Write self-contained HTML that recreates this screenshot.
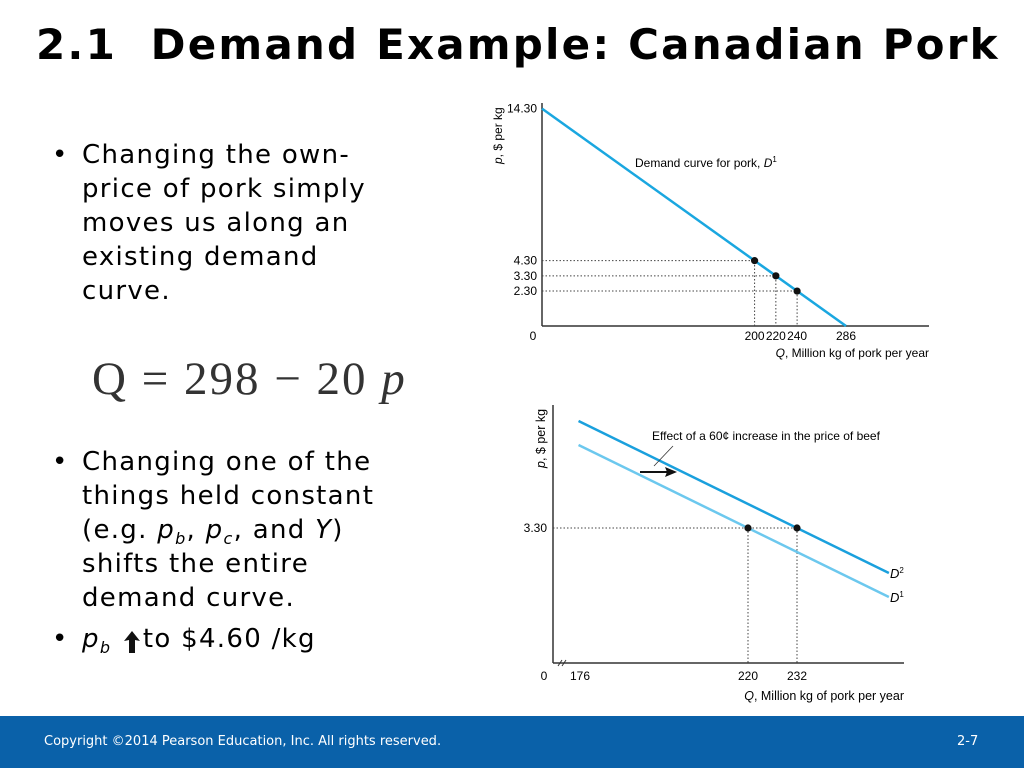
<!DOCTYPE html>
<html><head><meta charset="utf-8">
<style>
body{margin:0;width:1024px;height:768px;background:#fff;position:relative;overflow:hidden;font-family:"DejaVu Sans","Liberation Sans",sans-serif;}
.title{position:absolute;left:36px;top:20px;font-family:"DejaVu Sans","Liberation Sans",sans-serif;font-weight:bold;font-size:42px;color:#000;white-space:nowrap;letter-spacing:2.2px}
.bul{position:absolute;left:52px;font-size:26px;line-height:34px;color:#000;letter-spacing:1.3px;white-space:nowrap}
.bul .dot{position:absolute;left:0;}
.bul .tx{margin-left:30px;display:block}
.bul sub{font-size:16px;line-height:0;position:relative;vertical-align:baseline;top:6px}
.eq{position:absolute;left:92px;top:352px;font-family:"Liberation Serif",serif;font-size:47px;color:#333;white-space:nowrap;letter-spacing:2px}
.footer{position:absolute;left:0;top:716px;width:1024px;height:52px;background:#0a61a9;color:#fff;font-size:13px;}
</style></head><body>
<div class="title">2.1&nbsp; Demand Example: Canadian Pork</div>
<div class="bul" style="top:138px"><span class="dot">•</span><span class="tx">Changing the own-<br>price of pork simply<br>moves us along an<br>existing demand<br>curve.</span></div>
<div class="eq">Q = 298 − 20 <i>p</i></div>
<div class="bul" style="top:445px"><span class="dot">•</span><span class="tx">Changing one of the<br>things held constant<br>(e.g. <i>p<sub>b</sub></i>, <i>p<sub>c</sub></i>, and <i>Y</i>)<br>shifts the entire<br>demand curve.</span></div>
<div class="bul" style="top:622px"><span class="dot">•</span><span class="tx"><i>p<sub>b</sub></i> <svg width="22" height="28" style="vertical-align:-8px"><path d="M11,4 L3,14 L8,13 L8,26 L14,26 L14,13 L19,14 Z" fill="#111"/></svg>to $4.60 /kg</span></div>
<div class="footer">
<span style="position:absolute;left:44px;top:18px">Copyright ©2014 Pearson Education, Inc. All rights reserved.</span>
<span style="position:absolute;left:957px;top:18px">2-7</span>
</div>
<svg id="c1" width="1024" height="768" style="position:absolute;left:0;top:0" font-family="Liberation Sans, sans-serif" font-size="12"></svg>
<script>
const c1CurveQ=[0,286];
const c1CurveP=[14.30,0];
const c1PointQ=[200,220,240];
const c1PointP=[4.30,3.30,2.30];
const c1XTicks=["200","220","240","286"];
const c1YTicks=["14.30","4.30","3.30","2.30"];
const c2D1Q=[178.5,254.5];
const c2D1P=[5.375,1.575];
const c2D2Q=[178.5,254.5];
const c2D2P=[5.975,2.175];
const c2PointQ=[220,232];
const c2PointP=[3.30,3.30];
const c2XTicks=["176","220","232"];
const c2YTicks=["3.30"];
const NS="http://www.w3.org/2000/svg";
const svg=document.getElementById('c1');
function mk(t,a,txt){const e=document.createElementNS(NS,t);for(const k in a)e.setAttribute(k,a[k]);if(txt!==undefined)e.textContent=txt;svg.appendChild(e);return e;}
const x1=q=>542+q*(846-542)/286, y1=p=>326-p*15.2;
let e;
e=mk('line',{x1:542,y1:103,x2:542,y2:326,stroke:'#333','stroke-width':1.5});


e=mk('line',{x1:542,y1:326,x2:929,y2:326,stroke:'#333','stroke-width':1.5});


c1PointQ.forEach((q,i)=>{
 e=mk('polyline',{points:`542,${y1(c1PointP[i])} ${x1(q)},${y1(c1PointP[i])} ${x1(q)},326`,fill:'none',stroke:'#444','stroke-width':1,'stroke-dasharray':'1.5,2'});
 
 
});
e=mk('line',{x1:x1(c1CurveQ[0]),y1:y1(c1CurveP[0]),x2:x1(c1CurveQ[1]),y2:y1(c1CurveP[1]),stroke:'#1aa7e0','stroke-width':2.5});


c1PointQ.forEach((q,i)=>{
 e=mk('circle',{cx:x1(q),cy:y1(c1PointP[i]),r:3.6,fill:'#111'});
 
 
});
const c1XVals=[200,220,240,286];
c1XTicks.forEach((t,i)=>{e=mk('text',{x:x1(c1XVals[i]),y:340,'text-anchor':'middle'},t);
 
 });
const c1YVals=[14.30,4.30,3.30,2.30];
c1YTicks.forEach((t,i)=>{e=mk('text',{x:537,y:y1(c1YVals[i])+4,'text-anchor':'end'},t);
 
 });
e=mk('text',{x:533,y:340,'text-anchor':'middle'},'0');


e=mk('text',{x:929,y:357,'text-anchor':'end'});e.innerHTML='<tspan font-style="italic">Q</tspan>, Million kg of pork per year';


e=mk('text',{x:0,y:0,transform:'translate(502,164) rotate(-90)'});e.innerHTML='<tspan font-style="italic">p</tspan>, $ per kg';


e=mk('text',{x:635,y:167});e.innerHTML='Demand curve for pork, <tspan font-style="italic">D</tspan><tspan font-size="8" dy="-5">1</tspan>';


const x2=q=>748+(q-220)*49/12, y2=p=>528-(p-3.3)*40;
e=mk('line',{x1:553,y1:405,x2:553,y2:663,stroke:'#333','stroke-width':1.5});


e=mk('line',{x1:553,y1:663,x2:904,y2:663,stroke:'#333','stroke-width':1.5});


e=mk('path',{d:'M558,666 l4,-6 M562,666 l4,-6',stroke:'#333','stroke-width':1});


e=mk('line',{x1:553,y1:y2(3.3),x2:x2(232),y2:y2(3.3),stroke:'#444','stroke-width':1,'stroke-dasharray':'1.5,2'});


c2PointQ.forEach((q,i)=>{e=mk('line',{x1:x2(q),y1:y2(c2PointP[i]),x2:x2(q),y2:663,stroke:'#444','stroke-width':1,'stroke-dasharray':'1.5,2'});
 
 });
e=mk('line',{x1:x2(c2D1Q[0]),y1:y2(c2D1P[0]),x2:x2(c2D1Q[1]),y2:y2(c2D1P[1]),stroke:'#6cc8ee','stroke-width':2.5});


e=mk('line',{x1:x2(c2D2Q[0]),y1:y2(c2D2P[0]),x2:x2(c2D2Q[1]),y2:y2(c2D2P[1]),stroke:'#1aa0dd','stroke-width':2.5});


c2PointQ.forEach((q,i)=>{e=mk('circle',{cx:x2(q),cy:y2(c2PointP[i]),r:3.6,fill:'#111'});
 
 });
e=mk('path',{d:'M640,472 L668,472',stroke:'#111','stroke-width':2});


e=mk('path',{d:'M677,472 L665,467 L667,472 L665,477 Z',fill:'#111'});


e=mk('line',{x1:654,y1:466,x2:673,y2:446,stroke:'#333','stroke-width':0.8});


e=mk('text',{x:652,y:440});e.textContent='Effect of a 60¢ increase in the price of beef';


e=mk('text',{x:890,y:578,'font-size':13});e.innerHTML='<tspan font-style="italic">D</tspan><tspan font-size="8" dy="-5">2</tspan>';


e=mk('text',{x:890,y:602,'font-size':13});e.innerHTML='<tspan font-style="italic">D</tspan><tspan font-size="8" dy="-5">1</tspan>';


const c2XPos=[580,748,797];
c2XTicks.forEach((t,i)=>{e=mk('text',{x:c2XPos[i],y:680,'text-anchor':'middle'},t);
 
 });
c2YTicks.forEach(t=>{e=mk('text',{x:547,y:y2(parseFloat(t))+4,'text-anchor':'end'},t);
 
 });
e=mk('text',{x:544,y:680,'text-anchor':'middle'},'0');


e=mk('text',{x:904,y:700,'text-anchor':'end','font-size':12.5});e.innerHTML='<tspan font-style="italic">Q</tspan>, Million kg of pork per year';


e=mk('text',{x:0,y:0,transform:'translate(545,468) rotate(-90)','font-size':12.5});e.innerHTML='<tspan font-style="italic">p</tspan>, $ per kg';


</script>
</body></html>
